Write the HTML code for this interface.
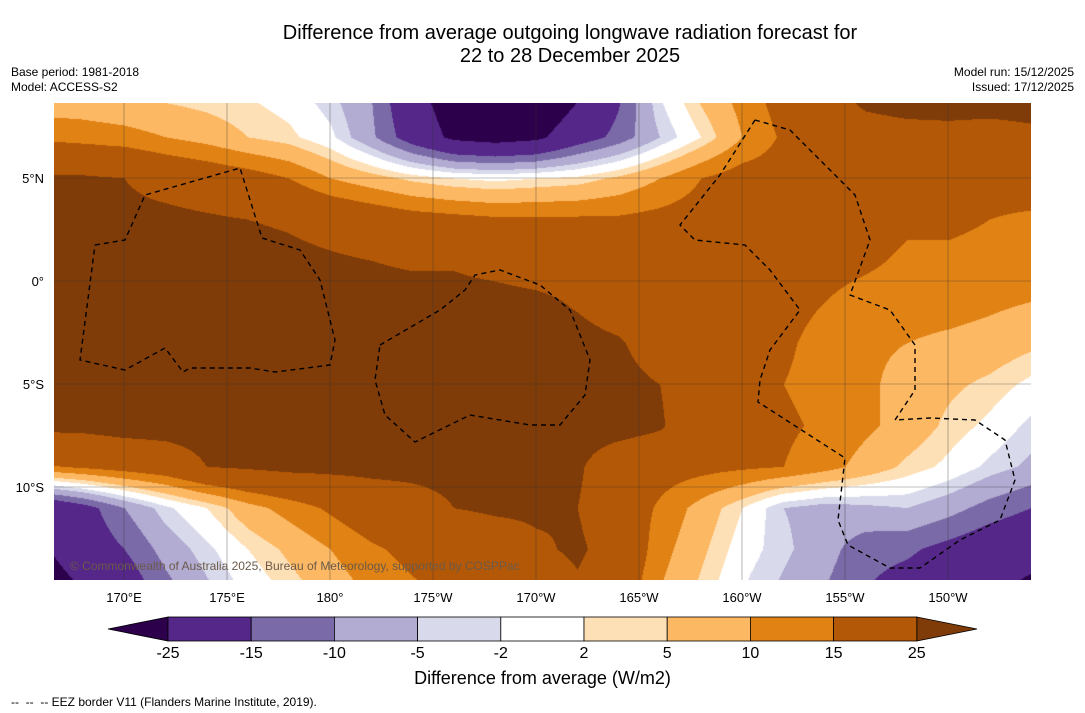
<!DOCTYPE html>
<html><head><meta charset="utf-8">
<style>
body{margin:0;width:1085px;height:713px;background:#fff;font-family:"Liberation Sans",sans-serif;position:relative;overflow:hidden}
.t{position:absolute;white-space:nowrap;color:#000}
</style></head><body>
<div class="t" style="left:0;width:1140px;top:22px;text-align:center;font-size:20px;line-height:23px">Difference from average outgoing longwave radiation forecast for<br>22 to 28 December 2025</div>
<div class="t" style="left:11px;top:65px;font-size:12px;line-height:15px">Base period: 1981-2018<br>Model: ACCESS-S2</div>
<div class="t" style="right:11px;top:65px;font-size:12px;line-height:15px;text-align:right">Model run: 15/12/2025<br>Issued: 17/12/2025</div>
<canvas id="map" width="977" height="477" style="position:absolute;left:54px;top:103px"></canvas>
<svg id="ov" width="1085" height="713" style="position:absolute;left:0;top:0"></svg>
<div class="t" style="left:70px;top:559px;font-size:12px;color:#6b5a4a">© Commonwealth of Australia 2025, Bureau of Meteorology, supported by COSPPac</div>
<div class="t" style="left:0;width:1085px;text-align:center;top:668px;font-size:18px">Difference from average (W/m2)</div>
<div class="t" style="left:11px;top:695px;font-size:12px">--&nbsp; --&nbsp; -- EEZ border V11 (Flanders Marine Institute, 2019).</div>
<script>
const lons=[166,168,170,172,174,176,178,180,182,184,186,188,190,192,194,196,198,200,202,204,206,208,210,212,214];
const lats=[9,7,5,3,1,-1,-3,-5,-7,-9,-11,-13,-15];
const row9=[6,6,5,4,3,2,0,-4,-10,-22,-30,-36,-34,-26,-16,-2,6,12,18,21,28,30,31,31,31];
const row7=[14,13,12,10,8,5,3,-1,-9,-19,-27,-29,-27,-19,-13,-5,2,10,16,18,20,21,21,20,22];
const row5=[26,26,25,22,20,18,15,10,7,4,2,1,2,3,6,10,15,18,18,18,20,20,20,20,22];
const row3=[27,27,27,27,26,25,24,22,20,18,17,16,16,16,16,17,18,18,18,18,18,16,17,15,13];
const row1=[27,27,28,28,28,28,27,26,25,24,24,22,20,20,19,19,18,18,18,17,16,14,13,12,12];
const rowm1=[28,28,28,28,28,28,28,28,28,28,28,28,27,24,20,19,18,17,17,15,13,12,12,11,10];
const rowm3=[28,28,28,28,28,28,28,28,28,28,28,28,28,28,26,20,18,17,16,13,11,10,9,8,6];
const rowm5=[28,28,28,28,28,28,28,28,28,28,28,28,28,28,28,25,19,17,15,13,11,8,6,4,1];
const rowm7=[27,27,28,28,28,28,28,28,28,28,28,28,28,28,28,26,18,17,16,14,11,8,4,1,-3];
const rowm9=[14,16,18,20,25,26,27,27,27,27,27,27,27,26,20,18,17,16,15,12,8,4,1,-3,-6];
const rowm11=[-24,-18,-10,-3,2,8,12,16,20,22,25,26,26,25,20,14,8,2,-5,-7,-6,-5,-8,-12,-15];
const rowm13=[-26,-20,-15,-8,-3,2,6,10,14,17,19,21,24,26,22,12,6,0,-4,-8,-13,-14,-17,-20,-22];
const rowm15=[-30,-25,-20,-12,-6,-1,3,7,11,14,16,18,20,24,20,10,4,-2,-6,-10,-15,-18,-20,-24,-27];
const grid=[row9,row7,row5,row3,row1,rowm1,rowm3,rowm5,rowm7,rowm9,rowm11,rowm13,rowm15];
const levels=[-25,-15,-10,-5,-2,2,5,10,15,25];
const colors=['#2d004b','#542788','#7b6aa8','#b2abd2','#d8daeb','#ffffff','#fee0b6','#fdb863','#e08214','#b35806','#7f3b08'];
const tickLons=[170,175,180,185,190,195,200,205,210];
const tickLonLabels=['170°E','175°E','180°','175°W','170°W','165°W','160°W','155°W','150°W'];
const tickLats=[5,0,-5,-10];
const tickLatLabels=['5°N','0°','5°S','10°S'];
const PX0=54,PY0=103;
const xOf=lon=>124+(lon-170)*20.6;
const yOf=lat=>281-lat*20.6;
const lonOf=x=>170+(x-124)/20.6;
const latOf=y=>(281-y)/20.6;
function val(lon,lat){
  let fi=(lon-lons[0])/2, fj=(lats[0]-lat)/2;
  fi=Math.max(0,Math.min(lons.length-1.001,fi));fj=Math.max(0,Math.min(lats.length-1.001,fj));
  const i=Math.floor(fi),j=Math.floor(fj),a=fi-i,b=fj-j;
  return grid[j][i]*(1-a)*(1-b)+grid[j][i+1]*a*(1-b)+grid[j+1][i]*(1-a)*b+grid[j+1][i+1]*a*b;
}
const rgb=colors.map(c=>[parseInt(c.slice(1,3),16),parseInt(c.slice(3,5),16),parseInt(c.slice(5,7),16)]);
const cv=document.getElementById('map'),ctx=cv.getContext('2d');
const img=ctx.createImageData(977,477);
for(let y=0;y<477;y++)for(let x=0;x<977;x++){
  const v=val(lonOf(x+PX0),latOf(y+PY0));let k=0;while(k<levels.length&&v>=levels[k])k++;
  const p=(y*977+x)*4,c=rgb[k];img.data[p]=c[0];img.data[p+1]=c[1];img.data[p+2]=c[2];img.data[p+3]=255;}
ctx.putImageData(img,0,0);
const NS='http://www.w3.org/2000/svg',svg=document.getElementById('ov');
function mk(tag,attrs,parent){const e=document.createElementNS(NS,tag);for(const k in attrs)e.setAttribute(k,attrs[k]);(parent||svg).appendChild(e);return e;}
tickLons.forEach((lon,i)=>{const x=xOf(lon);
  const l=mk('line',{x1:x,x2:x,y1:103,y2:580,stroke:'#333','stroke-width':0.6,'stroke-opacity':0.6});
  
  const t=mk('text',{x:x,y:602,'text-anchor':'middle','font-size':13});t.textContent=tickLonLabels[i];
  });
tickLats.forEach((lat,i)=>{const y=yOf(lat);
  const l=mk('line',{x1:54,x2:1031,y1:y,y2:y,stroke:'#333','stroke-width':0.6,'stroke-opacity':0.6});
  
  const t=mk('text',{x:44,y:y+5,'text-anchor':'end','font-size':13});t.textContent=tickLatLabels[i];
  });
const eez=[
 [[95,245],[125,240],[145,195],[240,168],[262,238],[300,250],[320,280],[335,340],[330,365],[275,372],[250,368],[190,368],[183,372],[165,348],[125,370],[80,360],[95,245]],
 [[380,345],[440,310],[465,290],[475,275],[500,270],[540,285],[570,310],[590,360],[585,395],[560,425],[530,425],[470,415],[415,442],[385,415],[375,380],[380,345]],
 [[755,120],[790,130],[820,160],[855,195],[870,240],[850,295],[890,310],[915,345],[915,390],[895,420]],
 [[755,120],[720,175],[680,225],[695,240],[745,245],[770,270],[800,310],[770,350],[760,380],[758,402],[845,458],[838,520],[848,545],[890,568],[920,568],[960,540],[1000,520],[1015,480],[1005,440],[975,420],[930,418],[895,420]]];
eez.forEach(pts=>{const p=mk('polyline',{points:pts.map(q=>q.join(',')).join(' '),fill:'none',stroke:'#000','stroke-width':1.4,'stroke-dasharray':'5,4'});
  });
const cbX0=168,cbW=83.2,cbY=617,cbH=24;
const cb=mk('g',{});
mk('polygon',{points:`108,629 ${cbX0},${cbY} ${cbX0},${cbY+cbH}`,fill:colors[0],stroke:'#000','stroke-width':0.8},cb);
const xe=cbX0+cbW*(colors.length-2);
mk('polygon',{points:`${xe},${cbY} 977,629 ${xe},${cbY+cbH}`,fill:colors[colors.length-1],stroke:'#000','stroke-width':0.8},cb);
for(let i=1;i<colors.length-1;i++){const r=mk('rect',{x:cbX0+cbW*(i-1),y:cbY,width:cbW,height:cbH,fill:colors[i],stroke:'#000','stroke-width':0.8},cb);
  }
levels.forEach((lv,i)=>{const t=mk('text',{x:cbX0+cbW*i,y:658,'text-anchor':'middle','font-size':16},cb);t.textContent=lv;
  });
</script>
</body></html>
